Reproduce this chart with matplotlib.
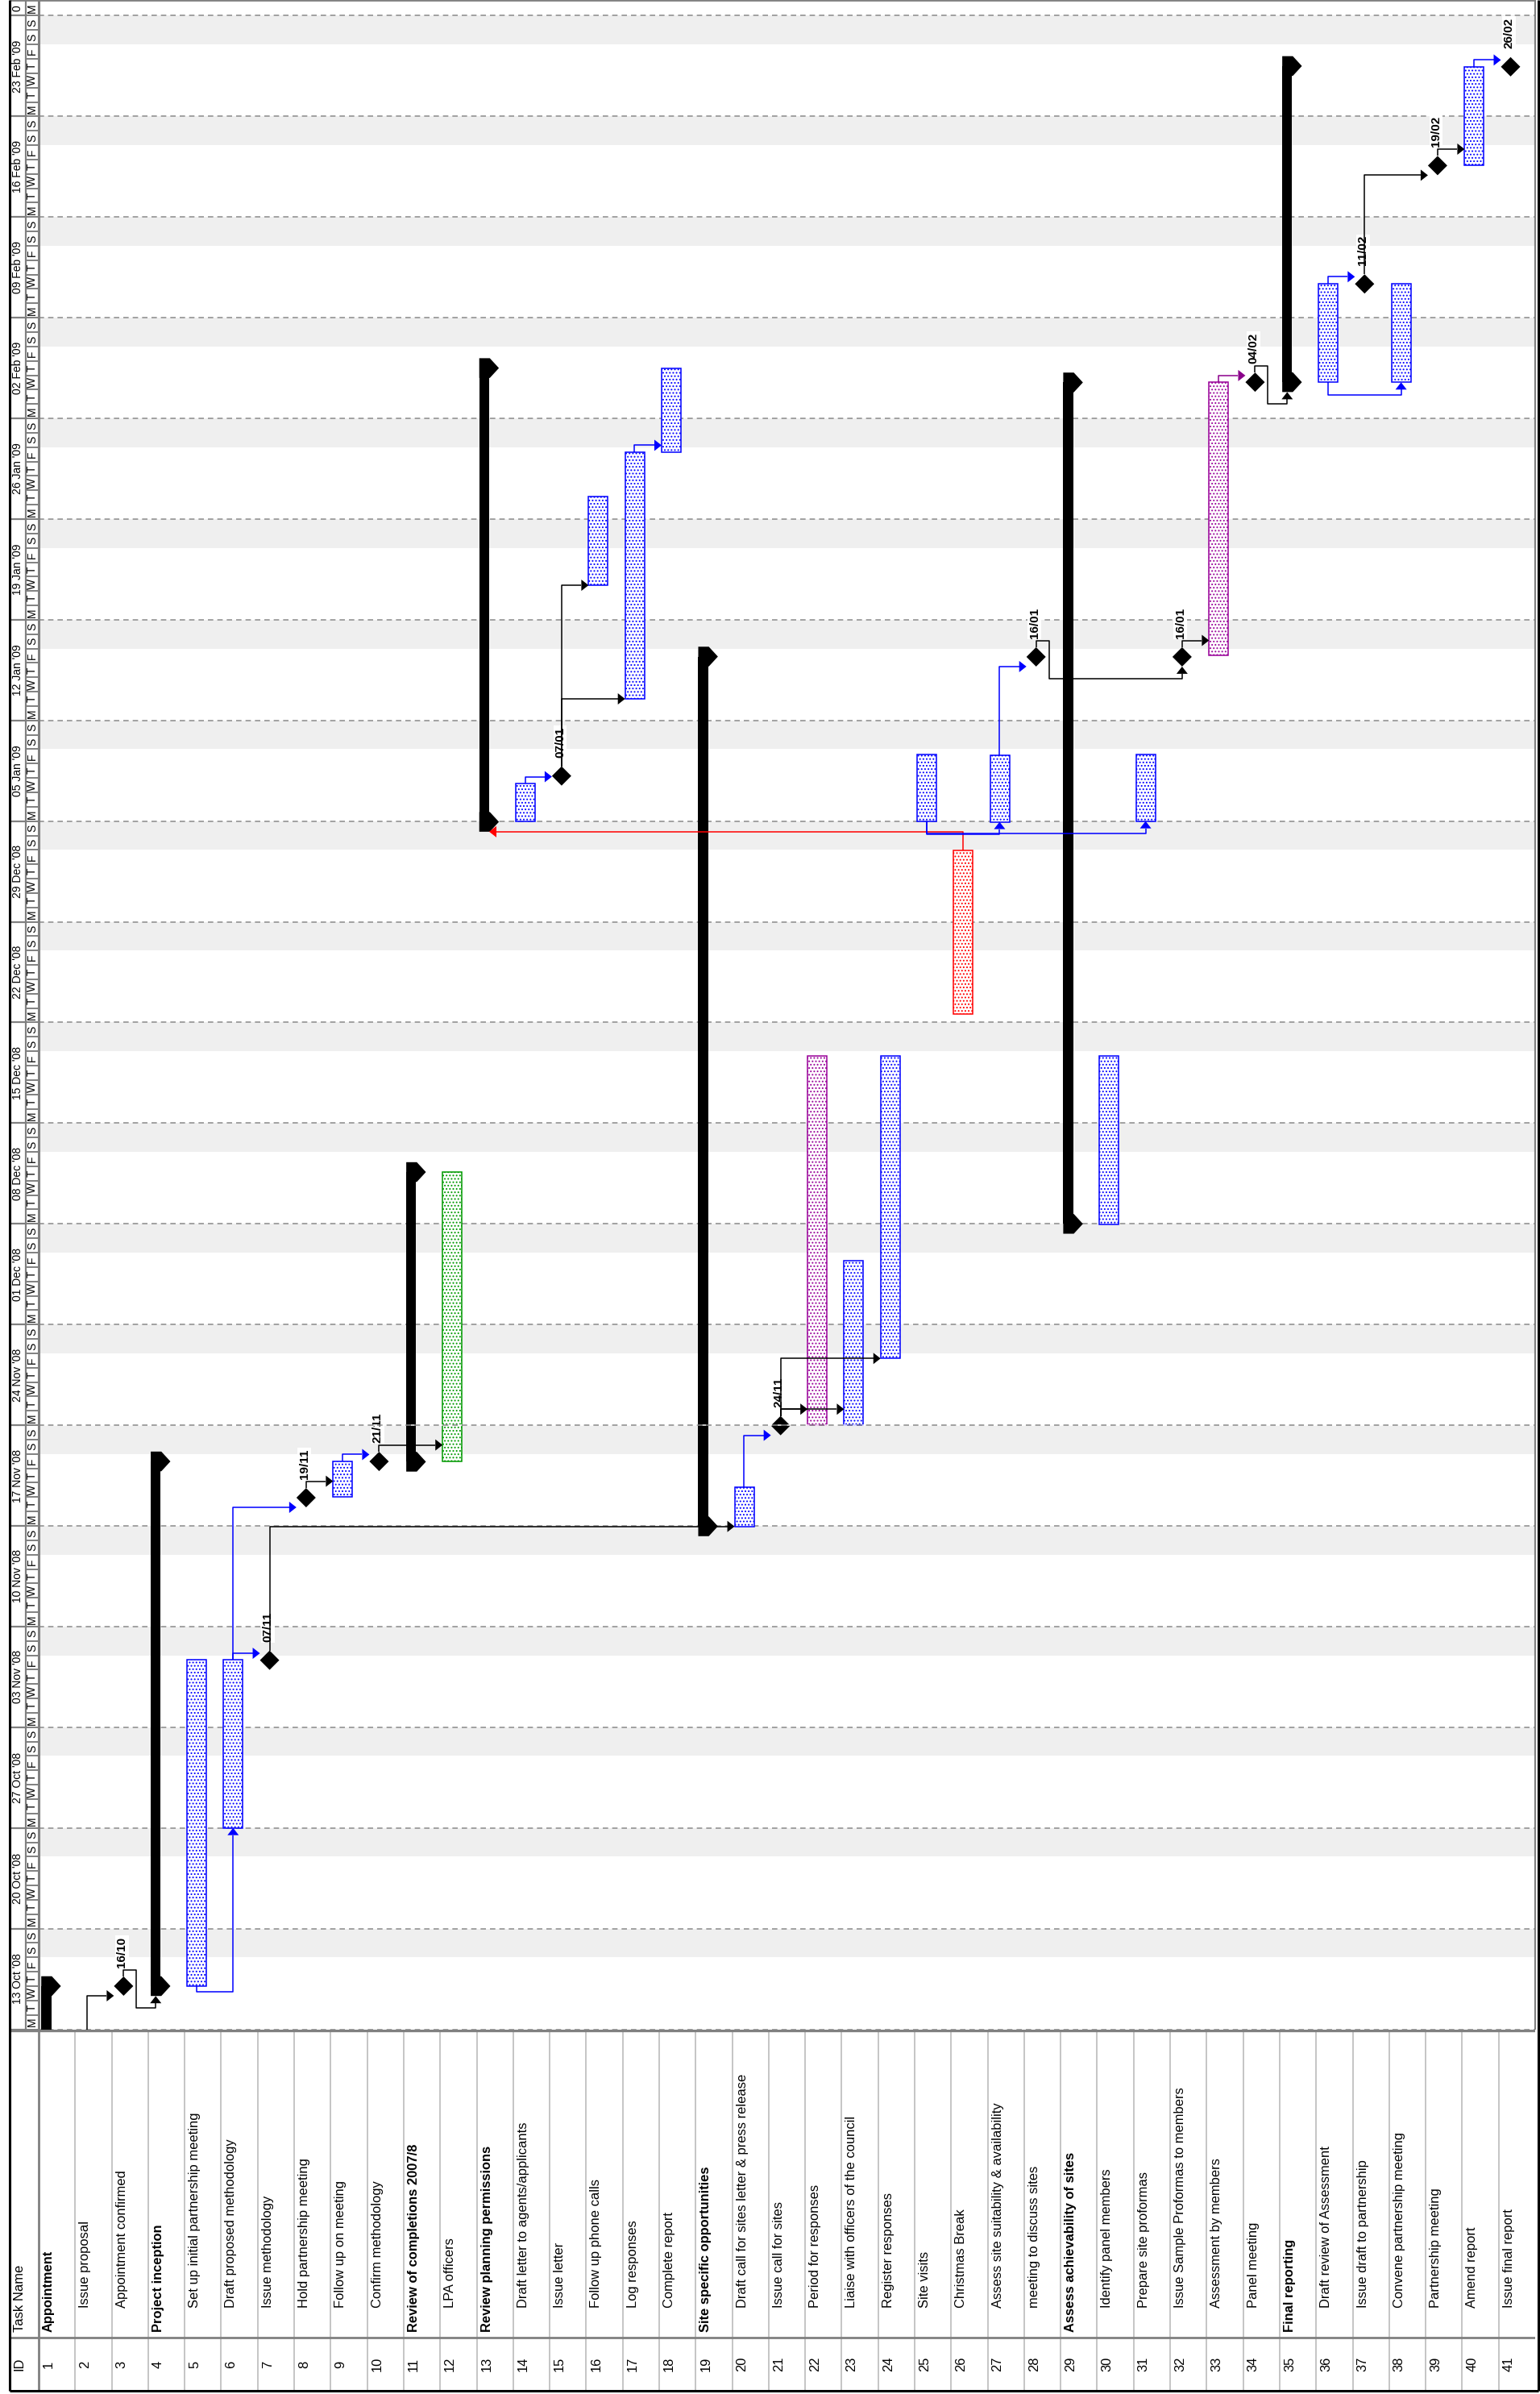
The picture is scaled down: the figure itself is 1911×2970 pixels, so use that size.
import matplotlib
matplotlib.use("Agg")
import matplotlib.pyplot as plt
from matplotlib.patches import Rectangle, Polygon
from matplotlib.lines import Line2D

plt.rcParams["font.family"] = ["Liberation Sans", "DejaVu Sans"]
plt.rcParams["hatch.linewidth"] = 0.9
plt.rcParams["lines.scale_dashes"] = False
plt.rcParams["lines.solid_capstyle"] = "butt"

# ---------------- data ----------------
task_ids = list(range(1, 42))
task_names = [
    "Appointment", "Issue proposal", "Appointment confirmed", "Project inception",
    "Set up initial partnership meeting", "Draft proposed methodology", "Issue methodology",
    "Hold partnership meeting", "Follow up on meeting", "Confirm methodology",
    "Review of completions 2007/8", "LPA officers", "Review planning permissions",
    "Draft letter to agents/applicants", "Issue letter", "Follow up phone calls",
    "Log responses", "Complete report", "Site specific opportunities",
    "Draft call for sites letter & press release", "Issue call for sites",
    "Period for responses", "Liaise with officers of the council", "Register responses",
    "Site visits", "Christmas Break", "Assess site suitability & availability",
    "meeting to discuss sites", "Assess achievability of sites", "Identify panel members",
    "Prepare site proformas", "Issue Sample Proformas to members", "Assessment by members",
    "Panel meeting", "Final reporting", "Draft review of Assessment",
    "Issue draft to partnership", "Convene partnership meeting", "Partnership meeting",
    "Amend report", "Issue final report",
]
task_kinds = [
    "summary", "task", "milestone", "summary", "task", "task", "milestone", "milestone", "task", "milestone",
    "summary", "task", "summary", "task", "milestone", "task", "task", "task", "summary", "task",
    "milestone", "task", "task", "task", "task", "task", "task", "milestone", "summary", "task",
    "task", "milestone", "task", "milestone", "summary", "task", "milestone", "task", "milestone", "task",
    "milestone",
]
# days after Mon 13 Oct 2008 00:00
task_start = [
    -6.0, -4.0, 3.0, 3.0, 3.0, 14.0, 25.66, 36.96, 37.02, 39.48,
    39.46, 39.49, 83.95, 83.98, 87.14, 100.4, 92.5, 109.66, 34.97, 34.96,
    41.97, 42.01, 42.01, 46.64, 84.0, 70.58, 83.95, 95.42, 56.0, 55.97,
    84.0, 95.42, 95.51, 114.52, 114.52, 114.51, 121.35, 114.51, 129.58, 129.58,
    136.45,
]
task_end = [
    3.0, -1.3, 3.0, 39.48, 25.67, 25.67, 25.66, 36.96, 39.49, 39.48,
    59.6, 59.6, 115.5, 86.62, 87.14, 106.57, 109.66, 115.5, 95.44, 37.69,
    41.97, 67.67, 53.45, 67.67, 88.65, 81.94, 88.6, 95.42, 114.5, 67.66,
    88.65, 95.42, 114.51, 114.52, 136.5, 121.38, 121.35, 121.38, 129.58, 136.45,
    136.45,
]
milestone_labels = {3: "16/10", 7: "07/11", 8: "19/11", 10: "21/11", 15: "07/01",
                    21: "24/11", 28: "16/01", 32: "16/01", 34: "04/02", 37: "11/02",
                    39: "19/02", 41: "26/02"}
# (predecessor, successor, type)
links = [
    (2, 3, "FS"), (3, 4, "FS"), (5, 6, "SS"), (6, 7, "FS"), (6, 8, "FS"), (7, 20, "FS"),
    (8, 9, "FS"), (9, 10, "FS"), (10, 12, "FS"), (14, 15, "FS"), (15, 16, "FS"),
    (15, 17, "FS"), (17, 18, "FS"), (20, 21, "FS"), (21, 22, "FS"), (21, 23, "FS"),
    (21, 24, "FS"), (26, 13, "FS"), (25, 27, "SS"), (25, 31, "SS"), (27, 28, "FS"),
    (28, 32, "FS"), (32, 33, "FS"), (33, 34, "FS"), (34, 35, "FS"), (36, 37, "FS"),
    (36, 38, "SS"), (37, 39, "FS"), (39, 40, "FS"), (40, 41, "FS"),
]
link_colours = [
    "k", "k", "b", "b", "b", "k", "k", "b", "k", "b", "k", "k", "b", "b", "k", "k", "k",
    "r", "b", "b", "b", "k", "k", "p", "k", "b", "b", "k", "k", "b",
]
week_labels = ["13 Oct '08", "20 Oct '08", "27 Oct '08", "03 Nov '08", "10 Nov '08",
               "17 Nov '08", "24 Nov '08", "01 Dec '08", "08 Dec '08", "15 Dec '08",
               "22 Dec '08", "29 Dec '08", "05 Jan '09", "12 Jan '09", "19 Jan '09",
               "26 Jan '09", "02 Feb '09", "09 Feb '09", "16 Feb '09", "23 Feb '09", "0"]
day_letters = ["M", "T", "W", "T", "F", "S", "S"]
current_date = 42.0

# ---------------- styles ----------------
bar_colours = {12: "#009900", 22: "#990099", 26: "#ff0000", 33: "#990099"}
colour_map = {"k": "#000000", "b": "#0000ff", "r": "#ff0000", "p": "#8b008b"}

W, H, DPI = 1911, 2970, 100
fig = plt.figure(figsize=(W / DPI, H / DPI), dpi=DPI)
fig.patch.set_facecolor("white")

PX_ROW = (1905 - 48) / 41.0
PX_DAY = 17.843
GB = 2517.5          # gantt bottom (px from top)
TB = 2966            # table bottom
X0 = -36 / PX_ROW
YTOP = GB / PX_DAY


def px_x(p):
    return p / PX_ROW


def px_y(p):
    return p / PX_DAY


ax = fig.add_axes([12 / W, 1 - GB / H, 1893 / W, GB / H])
ax.set_xlim(X0, 41)
ax.set_ylim(0, YTOP)
ax.axis("off")

# weekend shading and week grid
for k in range(len(week_labels)):
    ax.add_patch(Rectangle((0, 7 * k + 5), 41, 2, facecolor="#efefef", edgecolor="none", zorder=0))
    if 7 * k != current_date:
        ax.add_line(Line2D([0, 41], [7 * k, 7 * k], color="#8a8a8a", lw=1.1,
                           dashes=(4.8, 3.6), zorder=1))
ax.add_line(Line2D([0, 41], [current_date, current_date], color="#8a8a8a", lw=1.1,
                   dashes=(4.8, 3.6), gapcolor="white", zorder=6))

# timescale
XT = px_x(32 - 48)
for k, lab in enumerate(week_labels):
    lo = 7 * k
    hi = min(7 * k + 7, YTOP)
    ax.text((X0 + XT) / 2, (lo + hi) / 2, lab, rotation=90, rotation_mode="anchor",
            ha="center", va="center", fontsize=10, clip_on=True)
    ax.plot([X0, XT], [lo, lo], color="#808080", lw=1.6, zorder=2)
d = 0
while d + 0.5 < YTOP:
    ax.text(XT / 2, d + 0.5, day_letters[d % 7], rotation=90, rotation_mode="anchor",
            ha="center", va="center", fontsize=10)
    ax.plot([XT, 0], [d, d], color="#808080", lw=1.4, zorder=2)
    d += 1
ax.plot([XT, XT], [0, YTOP], color="#808080", lw=1.6, zorder=2)
ax.plot([0, 0], [0, YTOP], color="#808080", lw=2.2, zorder=7)
ax.plot([41, 41], [0, YTOP], color="#808080", lw=1.6, zorder=7, clip_on=False)
ax.plot([X0, 41], [YTOP, YTOP], color="#808080", lw=2.0, zorder=7, clip_on=False)

kind = dict(zip(task_ids, task_kinds))
start = dict(zip(task_ids, task_start))
end = dict(zip(task_ids, task_end))

HX, HY, CAP = px_x(12), px_y(12), px_y(12.25)


def cap_vertices(x0, dd):
    return [(x0 + px_x(3.2), dd - CAP), (x0 + px_x(16.3), dd - CAP), (x0 + px_x(27.6), dd),
            (x0 + px_x(16.3), dd + CAP), (x0 + px_x(3.2), dd + CAP)]


# bars
for i in task_ids:
    x0 = i - 1
    s, e, kd = start[i], end[i], kind[i]
    if kd == "task":
        c = bar_colours.get(i, "#0000ff")
        ax.add_patch(Rectangle((x0 + px_x(3), s), px_x(24), e - s, facecolor="white",
                               edgecolor=c, hatch="....", lw=1.1, zorder=3))
    elif kd == "summary":
        ax.add_patch(Rectangle((x0 + px_x(3.2), s), px_x(12.3), e - s, facecolor="black",
                               edgecolor="none", zorder=3))
        for dd in (s, e):
            ax.add_patch(Polygon(cap_vertices(x0, dd), closed=True, facecolor="black",
                                 edgecolor="none", zorder=3))
    else:
        cx = x0 + px_x(14.8)
        ax.add_patch(Polygon([(cx - HX, s), (cx, s + HY), (cx + HX, s), (cx, s - HY)],
                             closed=True, facecolor="black", edgecolor="none", zorder=4))
        ax.text(cx - px_x(2), s + px_y(23), milestone_labels[i], rotation=90,
                rotation_mode="anchor", ha="left", va="center", fontsize=11,
                fontweight="bold", zorder=4,
                bbox=dict(facecolor="white", edgecolor="none", pad=1.0))


# links
def centre_x(i):
    return i - 1 + (px_x(9.35) if kind[i] == "summary" else px_x(14.8))


def vis_start(i):
    if kind[i] == "milestone":
        return start[i] - HY
    if kind[i] == "summary":
        return start[i] - CAP
    return start[i]


def vis_end(i):
    if kind[i] == "milestone":
        return end[i] + HY
    if kind[i] == "summary":
        return end[i] + CAP
    return end[i]


def reach(i):
    if kind[i] == "task":
        return end[i]
    if kind[i] == "milestone":
        return start[i] + HY
    return start[i]


def left_edge(i):
    if kind[i] == "milestone":
        return centre_x(i) - HX
    return i - 1 + px_x(3)


def right_edge(i):
    if kind[i] == "summary":
        return i - 1 + px_x(15.5)
    if kind[i] == "milestone":
        return centre_x(i) + HX
    return i - 1 + px_x(27)


JOG = px_y(8.4)
AL_X, AW_Y = px_x(9), px_y(7)
AL_Y, AW_X = px_y(9), px_x(7)


def arrow(direction, tx, ty, col):
    if direction == "right":
        pts = [(tx, ty), (tx - AL_X, ty + AW_Y), (tx - AL_X, ty - AW_Y)]
    elif direction == "left":
        pts = [(tx, ty), (tx + AL_X, ty + AW_Y), (tx + AL_X, ty - AW_Y)]
    else:
        pts = [(tx, ty), (tx - AW_X, ty - AL_Y), (tx + AW_X, ty - AL_Y)]
    ax.add_patch(Polygon(pts, closed=True, facecolor=col, edgecolor="none", zorder=5))


for (p, s_, typ), cc in zip(links, link_colours):
    col = colour_map[cc]
    px_, py_ = centre_x(p), vis_end(p)
    if typ == "SS":
        gap = px_y(15.5) if abs(start[s_] - start[p]) < 1 else px_y(7.5)
        t = min(start[p], vis_start(s_)) - gap
        xs = [px_, px_, centre_x(s_), centre_x(s_)]
        ys = [start[p], t, t, vis_start(s_) - AL_Y]
        ax.plot(xs, ys, color=col, lw=1.1, zorder=5)
        arrow("up", centre_x(s_), vis_start(s_), col)
        continue
    t = max(py_ + JOG, vis_start(s_))
    if s_ > p and t <= reach(s_) + 1e-6:
        ax.plot([px_, px_, left_edge(s_) - AL_X], [py_, t, t], color=col, lw=1.1, zorder=5)
        arrow("right", left_edge(s_), t, col)
    elif s_ > p:
        t1 = py_ + JOG
        xr = px_ + px_x(16)
        t2 = vis_start(s_) - px_y(15)
        ax.plot([px_, px_, xr, xr, centre_x(s_), centre_x(s_)],
                [py_, t1, t1, t2, t2, vis_start(s_) - AL_Y], color=col, lw=1.1, zorder=5)
        arrow("up", centre_x(s_), vis_start(s_), col)
    else:
        ax.plot([px_, px_, right_edge(s_) + AL_X], [py_, t, t], color=col, lw=1.1, zorder=5)
        arrow("left", right_edge(s_), t, col)

# ---------------- table ----------------
tax = fig.add_axes([12 / W, 1 - TB / H, 1893 / W, (TB - GB) / H])
tax.set_xlim(X0, 41)
tax.set_ylim(TB, GB)
tax.axis("off")
for i in range(1, 41):
    tax.plot([i, i], [GB, TB], color="#c0c0c0", lw=1.3)
tax.plot([0, 0], [GB, TB], color="#808080", lw=2.0)
tax.plot([X0, 41], [2900, 2900], color="#808080", lw=2.0)
tax.plot([X0, 41], [GB + 1, GB + 1], color="#808080", lw=2.4)

tax.text(X0 + px_x(5), 2893, "Task Name", rotation=90, rotation_mode="anchor",
         ha="left", va="top", fontsize=11.9)
tax.text(X0 + px_x(5), 2933, "ID", rotation=90, rotation_mode="anchor",
         ha="center", va="top", fontsize=11.9)
for i, name in zip(task_ids, task_names):
    is_sum = kind[i] == "summary"
    tax.text(i - 1 + px_x(5), 2893 if is_sum else 2863, name, rotation=90,
             rotation_mode="anchor", ha="left", va="top", fontsize=11.9,
             fontweight="bold" if is_sum else "normal")
    tax.text(i - 1 + px_x(5), 2933, str(i), rotation=90, rotation_mode="anchor",
             ha="center", va="top", fontsize=11.9)

# outer frame
fy0 = 1 - TB / H
for xs, ys in (([12 / W, 12 / W], [fy0, 1]), ([12 / W, 1909 / W], [fy0, fy0]),
               ([1909 / W, 1909 / W], [fy0, 1])):
    fig.add_artist(Line2D(xs, ys, transform=fig.transFigure, color="black", lw=2.2))

fig.savefig("out.png", dpi=DPI, facecolor="white")
